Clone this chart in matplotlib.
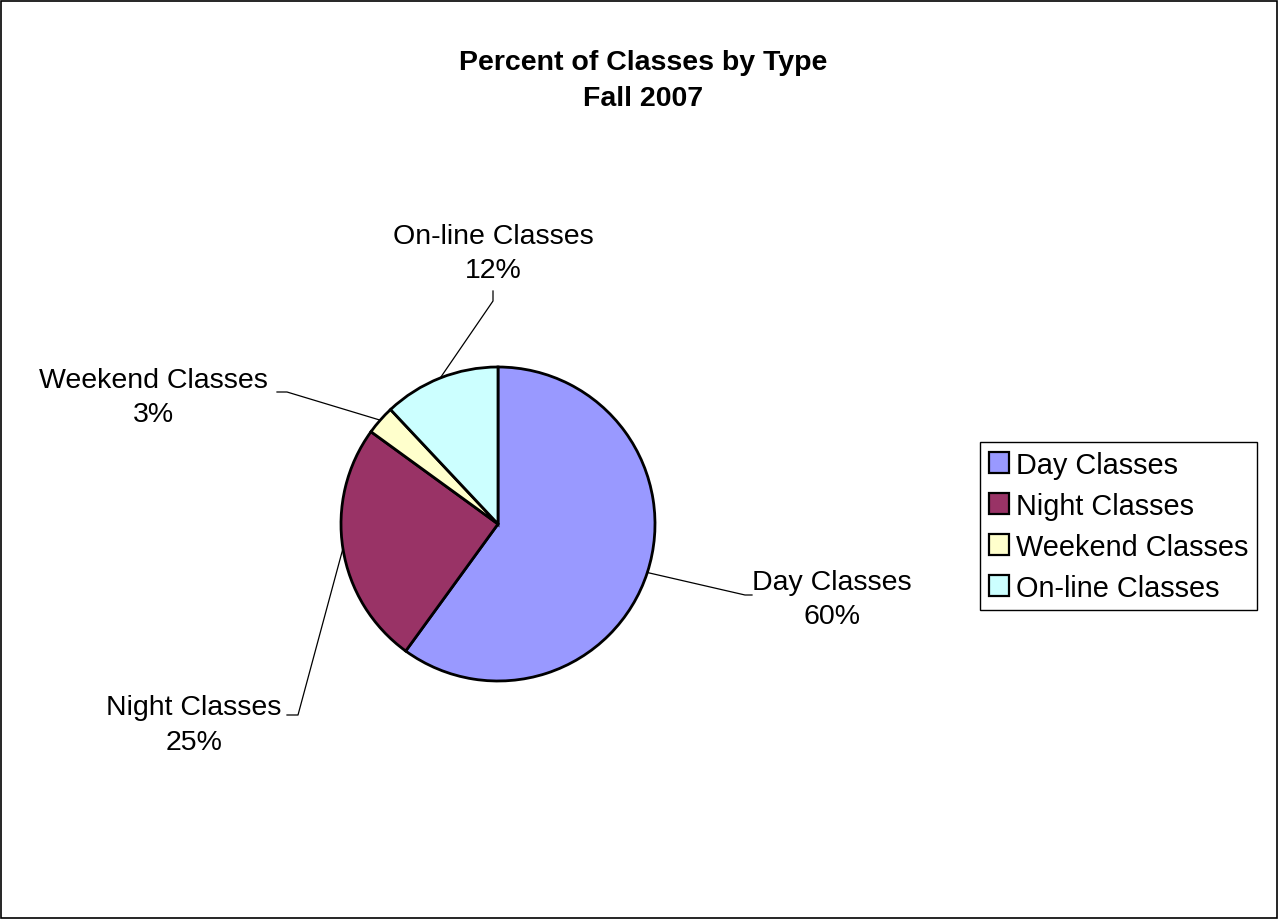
import matplotlib.pyplot as plt
import numpy as np
from matplotlib.patches import Rectangle

plt.rcParams['font.family'] = ['Liberation Sans', 'DejaVu Sans']

categories = ["Day Classes", "Night Classes", "Weekend Classes", "On-line Classes"]
percents = [60, 25, 3, 12]
colors = ['#9999FF', '#993366', '#FFFFCC', '#CCFFFF']

W, H = 1279, 920
fig = plt.figure(figsize=(W / 100, H / 100), dpi=100)
ax = fig.add_axes([0, 0, 1, 1])
ax.set_xlim(0, W)
ax.set_ylim(0, H)
ax.set_aspect('equal')
ax.axis('off')

# outer frame
ax.add_patch(Rectangle((1, 1), W - 3, H - 3, fill=False, ec='black', lw=1.2))

cx, cy, r = 498, H - 525, 157
wedges, _ = ax.pie(percents, colors=colors, startangle=90, counterclock=False,
                   center=(cx, cy), radius=r,
                   wedgeprops=dict(edgecolor='black', linewidth=2.0))
ax.set_xlim(0, W)
ax.set_ylim(0, H)

# label block centre (image coords) and leader elbow + end
label_pos = [
    ((832, 600), [(745, 596), (752, 596)]),
    ((194, 726), [(298, 716), (287, 716)]),
    ((153, 398), [(287, 393), (277, 393)]),
    ((493, 254), [(493, 302), (493, 292)]),
]

for w, name, pct, (tp, pts) in zip(wedges, categories, percents, label_pos):
    mid = np.deg2rad((w.theta1 + w.theta2) / 2)
    x0 = cx + r * np.cos(mid)
    y0 = cy + r * np.sin(mid)
    xs = [x0] + [p[0] for p in pts]
    ys = [y0] + [H - p[1] for p in pts]
    ax.plot(xs, ys, color='black', lw=0.9)
    ax.text(tp[0], H - tp[1], f"{name}\n{pct}%", ha='center', va='center',
            fontsize=20.5, linespacing=1.45)

ax.text(643, H - 81, "Percent of Classes by Type\nFall 2007", ha='center',
        va='center', fontsize=20.5, fontweight='bold', linespacing=1.45)

leg = ax.legend(wedges, categories, loc='upper left',
                bbox_to_anchor=(980 / W, 1 - 443 / H), fontsize=20.8,
                frameon=True, fancybox=False, edgecolor='black', framealpha=1,
                handlelength=0.7, handleheight=0.7, handletextpad=0.25,
                labelspacing=0.45, borderpad=0.3, borderaxespad=0)
leg.get_frame().set_linewidth(1.0)
for p in leg.get_patches():
    p.set_linewidth(1.6)

fig.savefig('out.png', dpi=100)
